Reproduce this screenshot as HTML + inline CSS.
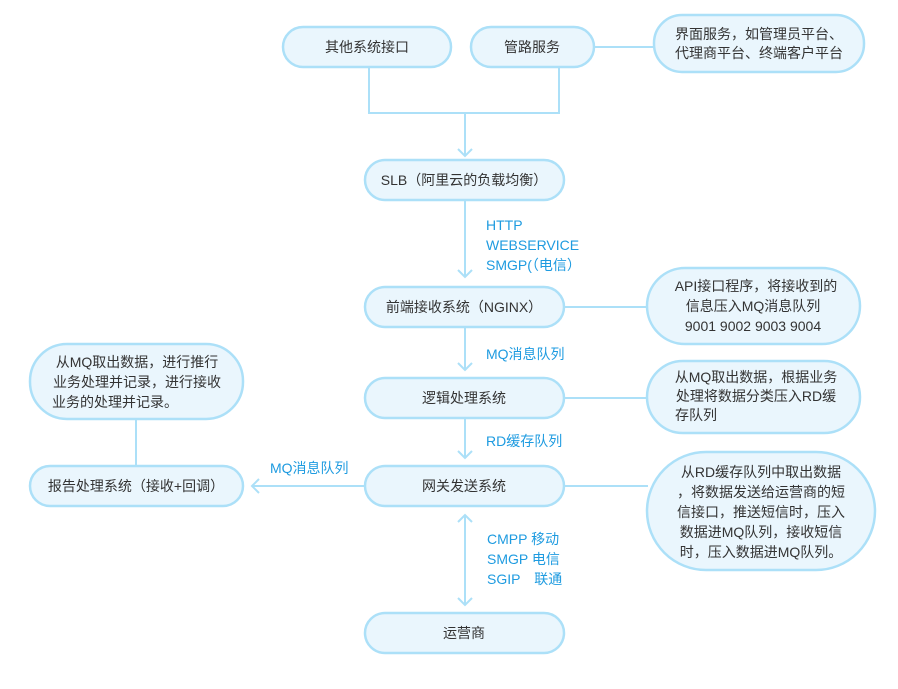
<!DOCTYPE html>
<html><head><meta charset="utf-8"><style>
body{margin:0;background:#fff;}
svg text{font-family:"Liberation Sans","Noto Sans CJK SC",sans-serif;font-size:14px;}
.b{fill:#eaf6fd;stroke:#ace0f8;stroke-width:2.5;}
.t{fill:#333;text-anchor:middle;}
.l{fill:#1e9be0;}
.c{stroke:#ace0f8;stroke-width:2;fill:none;}
</style></head><body>
<svg width="898" height="684" xmlns="http://www.w3.org/2000/svg">
<path class="c" d="M369 67V113H559V67M465 113V156M458 149L465 156L472 149"/>
<path class="c" d="M594 47H655"/>
<path class="c" d="M465 200V277M458 270L465 277L472 270"/>
<path class="c" d="M564 307H648"/>
<path class="c" d="M465 327V370M458 363L465 370L472 363"/>
<path class="c" d="M564 398H648"/>
<path class="c" d="M465 418V458M458 451L465 458L472 451"/>
<path class="c" d="M564 486H648"/>
<path class="c" d="M365 486H252M259 479L252 486L259 493"/>
<path class="c" d="M136 419V466"/>
<path class="c" d="M465 515V605M458 522L465 515L472 522M458 598L465 605L472 598"/>
<rect class="b" x="283" y="27" width="168" height="40" rx="20"/>
<text class="t" x="367" y="52">其他系统接口</text>
<rect class="b" x="471" y="27" width="123" height="40" rx="20"/>
<text class="t" x="532" y="52">管路服务</text>
<rect class="b" x="654" y="15" width="210" height="57" rx="28"/>
<text class="t" x="759" y="39">界面服务，如管理员平台、</text>
<text class="t" x="759" y="58">代理商平台、终端客户平台</text>
<rect class="b" x="365" y="160" width="199" height="40" rx="20"/>
<text class="t" x="464" y="185">SLB（阿里云的负载均衡）</text>
<text class="l" x="486" y="230">HTTP</text>
<text class="l" x="486" y="250">WEBSERVICE</text>
<text class="l" x="486" y="270">SMGP(（电信）</text>
<rect class="b" x="365" y="287" width="199" height="40" rx="20"/>
<text class="t" x="464" y="312">前端接收系统（NGINX）</text>
<rect class="b" x="647" y="268" width="213" height="76" rx="38"/>
<text class="t" x="756" y="291">API接口程序，将接收到的</text>
<text class="t" x="753" y="311">信息压入MQ消息队列</text>
<text class="t" x="753" y="331">9001  9002  9003  9004</text>
<text class="l" x="486" y="359">MQ消息队列</text>
<rect class="b" x="365" y="378" width="199" height="40" rx="20"/>
<text class="t" x="464" y="403">逻辑处理系统</text>
<rect class="b" x="647" y="361" width="213" height="72" rx="36"/>
<text class="t" x="756" y="382">从MQ取出数据，根据业务</text>
<text class="t" x="756" y="401">处理将数据分类压入RD缓</text>
<text class="t" x="696" y="420">存队列</text>
<text class="l" x="486" y="446">RD缓存队列</text>
<rect class="b" x="365" y="466" width="199" height="40" rx="20"/>
<text class="t" x="464" y="491">网关发送系统</text>
<rect class="b" x="647" y="452" width="228" height="118" rx="59"/>
<text class="t" x="761" y="477">从RD缓存队列中取出数据</text>
<text class="t" x="761" y="497">，将数据发送给运营商的短</text>
<text class="t" x="761" y="517">信接口，推送短信时，压入</text>
<text class="t" x="761" y="537">数据进MQ队列，接收短信</text>
<text class="t" x="761" y="557">时，压入数据进MQ队列。</text>
<text class="l" x="270" y="473">MQ消息队列</text>
<rect class="b" x="30" y="344" width="213" height="75" rx="37"/>
<text class="t" x="137" y="367">从MQ取出数据，进行推行</text>
<text class="t" x="137" y="387">业务处理并记录，进行接收</text>
<text class="t" x="115" y="407">业务的处理并记录。</text>
<rect class="b" x="30" y="466" width="213" height="40" rx="20"/>
<text class="t" x="136" y="491">报告处理系统（接收+回调）</text>
<text class="l" x="487" y="544">CMPP 移动</text>
<text class="l" x="487" y="564">SMGP 电信</text>
<text class="l" x="487" y="584">SGIP　联通</text>
<rect class="b" x="365" y="613" width="199" height="40" rx="20"/>
<text class="t" x="464" y="638">运营商</text>
</svg>
</body></html>
